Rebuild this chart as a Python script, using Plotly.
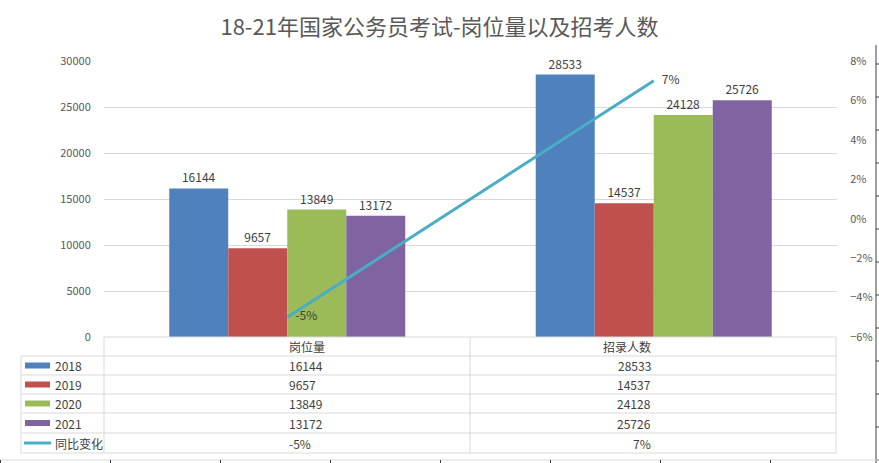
import plotly.graph_objects as go

W, H = 879, 463

categories = ["岗位量", "招录人数"]
years = ["2018", "2019", "2020", "2021"]
values_2018 = [16144, 28533]
values_2019 = [9657, 14537]
values_2020 = [13849, 24128]
values_2021 = [13172, 25726]
yoy_change = [-0.05, 0.07]
yoy_labels = ["-5%", "7%"]
yoy_name = "同比变化"
title_text = "18-21年国家公务员考试-岗位量以及招考人数"

colors = ["#4F81BD", "#C0504D", "#9BBB59", "#8064A2"]
line_color = "#4BACC6"
FONT = "Noto Sans CJK SC, Noto Sans, sans-serif"
TXT = "#404040"


def px(x):
    return x / W


def py(y):
    return 1 - y / H


series = [values_2018, values_2019, values_2020, values_2021]

fig = go.Figure()
for name, vals, c in zip(years, series, colors):
    fig.add_trace(go.Bar(
        x=categories, y=vals, name=name, marker=dict(color=c, line=dict(width=0)),
        text=[str(v) for v in vals], textposition="outside",
        textfont=dict(size=12, color=TXT, family=FONT), cliponaxis=False,
    ))

fig.add_trace(go.Scatter(
    x=categories, y=yoy_change, yaxis="y2", mode="lines+text", name=yoy_name,
    line=dict(color=line_color, width=3), text=yoy_labels, texttemplate="   %{text}",
    textposition="middle right", textfont=dict(size=12, color=TXT, family=FONT),
    cliponaxis=False,
))

# plot area in pixels
X0, X1, Y0, Y1 = 104, 837, 61, 337

shapes = []
grid = "#D9D9D9"
# table lines
tbl_left, tbl_legend, tbl_mid, tbl_right = 21, 104, 470, 836
header_top, row_lines = 337, [356, 375, 394, 413, 433, 453]
shapes.append(dict(type="line", xref="paper", yref="paper", x0=px(tbl_legend), x1=px(tbl_right),
                   y0=py(header_top), y1=py(header_top), line=dict(color=grid, width=1)))
for ry in row_lines:
    shapes.append(dict(type="line", xref="paper", yref="paper", x0=px(tbl_left), x1=px(tbl_right),
                       y0=py(ry), y1=py(ry), line=dict(color=grid, width=1)))
shapes.append(dict(type="line", xref="paper", yref="paper", x0=px(tbl_left), x1=px(tbl_left),
                   y0=py(row_lines[0]), y1=py(row_lines[-1]), line=dict(color=grid, width=1)))
for vx in [tbl_legend, tbl_mid, tbl_right]:
    shapes.append(dict(type="line", xref="paper", yref="paper", x0=px(vx), x1=px(vx),
                       y0=py(header_top), y1=py(row_lines[-1]), line=dict(color=grid, width=1)))

annotations = []
# header
col_centers = [(tbl_legend + tbl_mid) / 2, (tbl_mid + tbl_right) / 2]
for cx, cat in zip(col_centers, categories):
    annotations.append(dict(xref="paper", yref="paper", x=px(cx), y=py((header_top + row_lines[0]) / 2),
                            yanchor="middle", text=cat, showarrow=False,
                            font=dict(size=12, color=TXT, family=FONT)))
# rows
row_names = years + [yoy_name]
row_values = [[str(v) for v in s] for s in series] + [yoy_labels]
for i, (rn, rv) in enumerate(zip(row_names, row_values)):
    cy = (row_lines[i] + row_lines[i + 1]) / 2
    if i < 4:
        shapes.append(dict(type="rect", xref="paper", yref="paper", x0=px(25), x1=px(50),
                           y0=py(cy - 3), y1=py(cy + 3), fillcolor=colors[i], line=dict(width=0)))
    else:
        shapes.append(dict(type="line", xref="paper", yref="paper", x0=px(24), x1=px(51),
                           y0=py(cy), y1=py(cy), line=dict(color=line_color, width=3)))
    annotations.append(dict(xref="paper", yref="paper", x=px(53), y=py(cy), xanchor="left",
                            yanchor="middle", text=rn, showarrow=False,
                            font=dict(size=12, color=TXT, family=FONT)))
    for cx, t in zip(col_centers, rv):
        annotations.append(dict(xref="paper", yref="paper", x=px(cx), y=py(cy), yanchor="middle",
                                text=t, showarrow=False, font=dict(size=12, color=TXT, family=FONT)))

# decorative edge axes (cropped parts of the original)
edge = "#404040"
shapes.append(dict(type="line", xref="paper", yref="paper", x0=px(876), x1=px(876), y0=py(45), y1=py(463),
                   line=dict(color=edge, width=1)))
for ty in range(64, 463, 33):
    shapes.append(dict(type="line", xref="paper", yref="paper", x0=px(876), x1=px(879), y0=py(ty), y1=py(ty),
                       line=dict(color=edge, width=1)))
shapes.append(dict(type="line", xref="paper", yref="paper", x0=0, x1=1, y0=py(460), y1=py(460),
                   line=dict(color="#D9D9D9", width=1)))
for tx in range(0, 879, 110):
    shapes.append(dict(type="line", xref="paper", yref="paper", x0=px(tx + 0.5), x1=px(tx + 0.5), y0=py(460), y1=py(463),
                       line=dict(color=edge, width=1)))

fig.update_layout(
    width=W, height=H, margin=dict(l=0, r=0, t=0, b=0, autoexpand=False),
    paper_bgcolor="white", plot_bgcolor="white",
    showlegend=False, barmode="group", bargap=0.356, bargroupgap=0,
    font=dict(family=FONT, color="#595959"),
    title=dict(text=title_text, x=0.5, xanchor="center", y=py(27), yanchor="middle",
               font=dict(size=22, color="#595959", family=FONT)),
    xaxis=dict(domain=[px(X0), px(X1)], showticklabels=False, showgrid=False, zeroline=False,
               showline=False, ticks="", automargin=False),
    yaxis=dict(domain=[py(Y1), py(Y0)], range=[0, 30000], dtick=5000, tickformat="d",
               showgrid=True, gridcolor=grid, automargin=False,
               gridwidth=1, zeroline=False, showline=False, ticks="outside", ticklen=10,
               tickcolor="rgba(0,0,0,0)", tickfont=dict(size=11, color="#595959", family=FONT)),
    yaxis2=dict(overlaying="y", side="right", range=[-0.06, 0.08], dtick=0.02, tickformat=".0%",
                showgrid=False, zeroline=False, showline=False, ticks="outside", ticklen=10,
                automargin=False,
                tickcolor="rgba(0,0,0,0)", tickfont=dict(size=11, color="#595959", family=FONT)),
    shapes=shapes, annotations=annotations,
)

fig.write_html("out.html", config={"displayModeBar": False},
               post_script="document.body.style.margin='0px';document.body.style.overflow='hidden';")
